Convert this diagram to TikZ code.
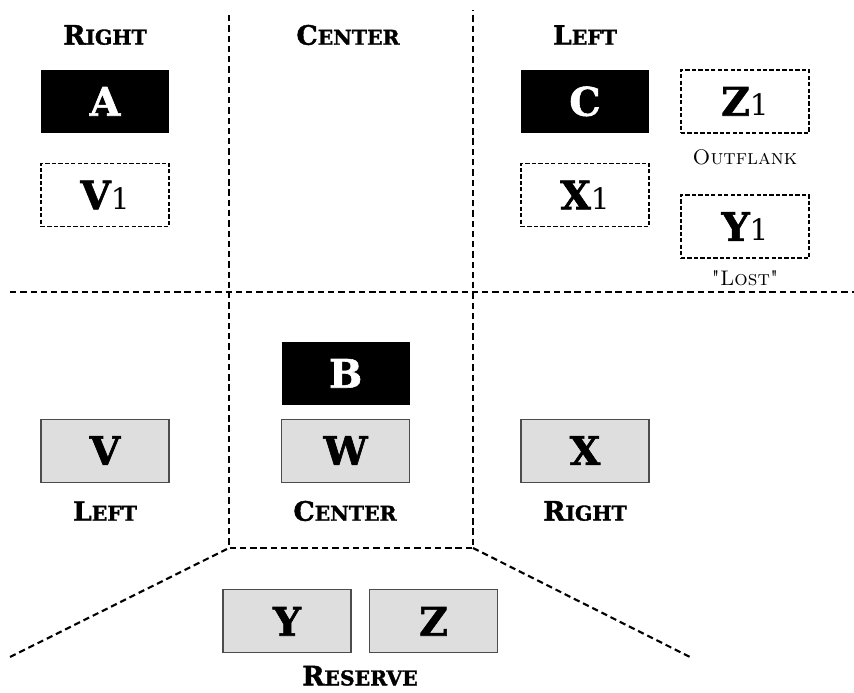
\documentclass[tikz,border=0pt]{standalone}
\usepackage{fontspec}
\newfontfamily\slabfont{DejaVu Serif}[BoldFeatures={FakeBold=1.5}]
\usetikzlibrary{positioning}

% bold title with hand made small caps
\newcommand{\wingname}[2]{{\fontsize{19}{20}\selectfont #1}{\fontsize{14.5}{15}\selectfont #2}}

\tikzset{
  piece/.style={minimum width=3.2cm, minimum height=1.575cm, inner sep=0pt,
    font=\slabfont\bfseries\fontsize{28}{30}\selectfont},
  enemy/.style={piece, fill=black, text=white},
  ghost/.style={piece, draw, line width=1pt, dash pattern=on 3pt off 1.6pt},
  friend/.style={piece, draw=black!70, line width=0.8pt, fill=black!13},
  wing/.style={font=\slabfont\bfseries},
  remark/.style={font=\fontsize{15}{16}\selectfont\scshape},
  frontline/.style={line width=1.5pt, dash pattern=on 4.5pt off 2.8pt}
}
\newcommand{\sub}[1]{{\fontsize{21}{22}\selectfont\mdseries #1}}

\begin{document}
\begin{tikzpicture}
   \useasboundingbox (0,0) rectangle (21.35,17.325);
   % field lines
   \coordinate (lc) at (5.725,3.625);
   \coordinate (rc) at (11.825,3.625);
   \draw[frontline] (5.725,16.95) -- (lc) -- (rc) -- (11.825,17.075);
   \draw[frontline] (0.25,10.025) -- (21.35,10.025);
   \draw[frontline] (0.25,0.9) -- (lc);
   \draw[frontline] (rc) -- (17.25,0.9);
   % upper half
   \node[wing] (tright) at (2.625,16.45) {\wingname{R}{IGHT}};
   \node[wing] (tcenter) at (8.7,16.45) {\wingname{C}{ENTER}};
   \node[wing] (tleft) at (14.625,16.45) {\wingname{L}{EFT}};
   \node[enemy] (A) at (2.625,14.79) {A};
   \node[ghost] (V1) at (2.625,12.45) {V\sub{1}};
   \node[enemy] (C) at (14.625,14.79) {C};
   \node[ghost] (X1) at (14.625,12.45) {X\sub{1}};
   \node[ghost] (Z1) at (18.625,14.79) {Z\sub{1}};
   \node[remark] (outflank) at (18.625,13.4) {Outflank};
   \node[ghost] (Y1) at (18.625,11.66) {Y\sub{1}};
   \node[remark] (lost) at (18.625,10.38) {\textquotedbl Lost\textquotedbl};
   % lower half
   \node[enemy] (B) at (8.64,7.99) {B};
   \node[friend] (V) at (2.625,6.06) {V};
   \node[friend] (W) at (8.64,6.06) {W};
   \node[friend] (X) at (14.625,6.06) {X};
   \node[wing] (bleft) at (2.625,4.55) {\wingname{L}{EFT}};
   \node[wing] (bcenter) at (8.625,4.55) {\wingname{C}{ENTER}};
   \node[wing] (bright) at (14.625,4.55) {\wingname{R}{IGHT}};
   \node[friend] (Y) at (7.175,1.79) {Y};
   \node[friend] (Z) at (10.84,1.79) {Z};
   \node[wing] (reserve) at (9.0,0.43) {\wingname{R}{ESERVE}};
\end{tikzpicture}
\end{document}
